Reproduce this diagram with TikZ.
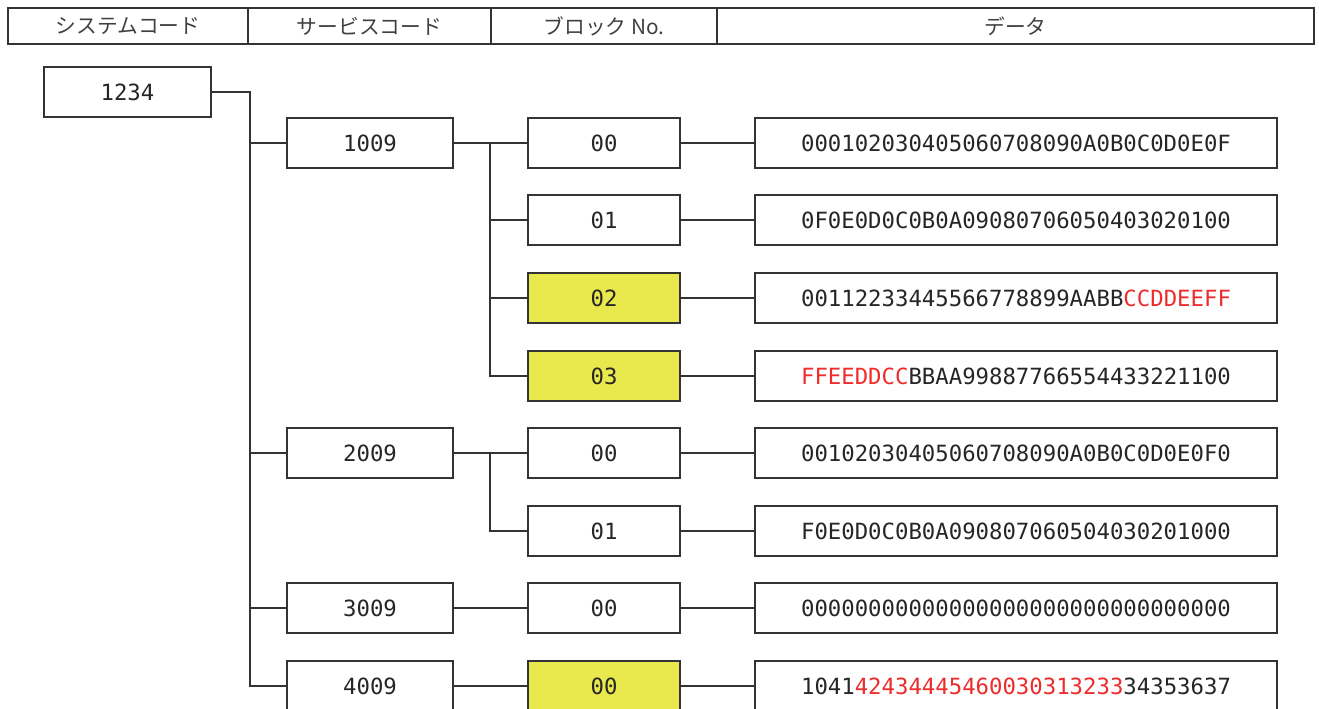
\documentclass[tikz,border=0pt]{standalone}
\usepackage{fontspec}
\setmonofont{DejaVu Sans Mono}
\newfontfamily\jpfont{Noto Sans CJK JP}
\definecolor{hlyellow}{HTML}{E9E84C}
\definecolor{hlred}{HTML}{EE2C2C}
\definecolor{linegray}{HTML}{333333}
\newcommand{\hlred}[1]{\textcolor{hlred}{#1}}

\begin{document}
\begin{tikzpicture}[x=0.02cm,y=-0.02cm,
  every node/.style={font=\ttfamily\fontsize{12.7}{14}\selectfont,text=black!85},
  headcell/.style={rectangle,draw=linegray,line width=0.9pt,minimum height=0.72cm,
    inner sep=0pt,outer sep=0pt,font=\jpfont\fontsize{11.8}{13}\selectfont,text=black!75},
  sysbox/.style={rectangle,draw=linegray,line width=0.9pt,minimum width=3.34cm,
    minimum height=1.0cm,inner sep=0pt,outer sep=0pt,fill=white},
  svcbox/.style={sysbox,minimum width=3.32cm},
  blkbox/.style={sysbox,minimum width=3.04cm},
  hlbox/.style={blkbox,fill=hlyellow},
  databox/.style={sysbox,minimum width=10.44cm},
  link/.style={draw=linegray,line width=0.7pt},
]
\useasboundingbox (0,0) rectangle (1319,708);

% ---------- Header ----------
\node[headcell,minimum width=4.80cm]  (H1) at (128,26)    {システムコード};
\node[headcell,minimum width=4.86cm]  (H2) at (369.5,26)  {サービスコード};
\node[headcell,minimum width=4.52cm]  (H3) at (604,26)    {ブロック No.};
\node[headcell,minimum width=11.94cm] (H4) at (1015.5,26) {データ};

% ---------- System code ----------
\node[sysbox] (SYS) at (127.5,92) {1234};

% ---------- Service codes ----------
\node[svcbox] (S1) at (370,143) {1009};
\node[svcbox] (S2) at (370,453) {2009};
\node[svcbox] (S3) at (370,608) {3009};
\node[svcbox] (S4) at (370,686) {4009};

% ---------- Blocks ----------
\node[blkbox] (B10) at (604,143) {00};
\node[blkbox] (B11) at (604,220) {01};
\node[hlbox]  (B12) at (604,298) {02};
\node[hlbox]  (B13) at (604,376) {03};
\node[blkbox] (B20) at (604,453) {00};
\node[blkbox] (B21) at (604,531) {01};
\node[blkbox] (B30) at (604,608) {00};
\node[hlbox]  (B40) at (604,686) {00};

% ---------- Data ----------
\node[databox] (D10) at (1016,143) {000102030405060708090A0B0C0D0E0F};
\node[databox] (D11) at (1016,220) {0F0E0D0C0B0A09080706050403020100};
\node[databox] (D12) at (1016,298) {00112233445566778899AABB\hlred{CCDDEEFF}};
\node[databox] (D13) at (1016,376) {\hlred{FFEEDDCC}BBAA99887766554433221100};
\node[databox] (D20) at (1016,453) {00102030405060708090A0B0C0D0E0F0};
\node[databox] (D21) at (1016,531) {F0E0D0C0B0A090807060504030201000};
\node[databox] (D30) at (1016,608) {00000000000000000000000000000000};
\node[databox] (D40) at (1016,686) {1041\hlred{42434445460030313233}34353637};

% ---------- Tree lines ----------
\coordinate (T) at (250,92);
\draw[link] (SYS.east) -- (T) |- (S4.west);
\foreach \s in {S1,S2,S3} \draw[link] (T) |- (\s.west);

\coordinate (J1) at (490,143);
\draw[link] (S1.east) -- (B10.west);
\draw[link] (J1) |- (B13.west);
\foreach \b in {B11,B12} \draw[link] (J1) |- (\b.west);

\coordinate (J2) at (490,453);
\draw[link] (S2.east) -- (B20.west);
\draw[link] (J2) |- (B21.west);

\draw[link] (S3.east) -- (B30.west);
\draw[link] (S4.east) -- (B40.west);

\foreach \b/\d in {B10/D10,B11/D11,B12/D12,B13/D13,B20/D20,B21/D21,B30/D30,B40/D40}
  \draw[link] (\b.east) -- (\d.west);

\end{tikzpicture}
\end{document}
